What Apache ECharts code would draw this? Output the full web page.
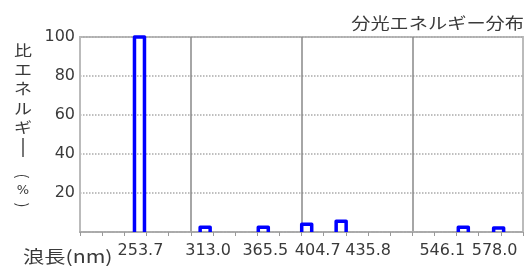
<!DOCTYPE html>
<html>
<head>
    <meta charset="utf-8">
    <title>分光エネルギー分布</title>
    <script src="https://cdn.jsdelivr.net/npm/echarts@6/dist/echarts.min.js"></script>
    <style>
        body { margin: 0; background: #fff; }
    </style>
</head>
<body>
<div id="main" style="width: 526px;height:266px;"></div>
<script type="text/javascript">
    // 波長 (nm) と 比エネルギー (%)
    var wavelengths = [253.7, 313.0, 365.5, 404.7, 435.8, 546.1, 578.0];
    var energy = [100, 2.5, 2.5, 4, 5.5, 2.5, 2];
    var yTicks = [20, 40, 60, 80, 100];

    var jpFont = '"Noto Sans CJK JP", sans-serif';
    var numFont = '"DejaVu Sans", sans-serif';
    var txt = '#3a3a3a';

    // ラベルの横ずらし (px) -- 重ならないように元図でずらしてある
    var nudge = [1, 3, 2, 11, 27, -21, -4];
    var rich = {};
    nudge.forEach(function (d, i) {
        rich['s' + i] = {
            fontSize: 16, fontFamily: numFont, color: txt,
            padding: d >= 0 ? [0, 0, 0, 2 * d] : [0, -2 * d, 0, 0]
        };
    });

    var lineData = wavelengths.map(function (w, i) { return [w, energy[i]]; });

    // 縦書きの軸名
    var yName = ['比', 'エ', 'ネ', 'ル', 'ギ'];
    var yNameEls = yName.map(function (c, i) {
        return {
            type: 'text', x: 23, y: 50 + i * 19.3, scaleX: 1.2,
            style: { text: c, fill: txt, font: '15px ' + jpFont, align: 'center', verticalAlign: 'middle' }
        };
    });
    yNameEls.push(
        { type: 'line', shape: { x1: 23, y1: 138, x2: 23, y2: 157 }, style: { stroke: '#555', lineWidth: 1.6 } },
        { type: 'text', x: 23, y: 176, rotation: -Math.PI / 2,
          style: { text: '(', fill: txt, font: '15px ' + jpFont, align: 'center', verticalAlign: 'middle' } },
        { type: 'text', x: 23, y: 191,
          style: { text: '%', fill: txt, font: '13px ' + numFont, align: 'center', verticalAlign: 'middle' } },
        { type: 'text', x: 23, y: 205, rotation: -Math.PI / 2,
          style: { text: ')', fill: txt, font: '15px ' + jpFont, align: 'center', verticalAlign: 'middle' } }
    );

    var myChart = echarts.init(document.getElementById('main'));
    var option = {
        animation: false,
        grid: {
            left: 80, right: 3, top: 37, bottom: 34,
            show: true, borderColor: '#bbb', borderWidth: 2
        },
        xAxis: [{
            type: 'value', min: 200, max: 600, interval: 100,
            axisLine: { show: true, lineStyle: { color: '#aaa', width: 2, type: 'dotted' } },
            axisTick: { show: true, length: 4, lineStyle: { color: '#999' } },
            minorTick: { show: true, splitNumber: 5, length: 4, lineStyle: { color: '#999' } },
            axisLabel: { show: false },
            splitLine: { show: true, showMinLine: false, showMaxLine: false,
                lineStyle: { color: '#888', width: 1.5 } }
        }, {
            type: 'value', min: 200, max: 600, position: 'bottom',
            axisLine: { show: false }, axisTick: { show: false }, splitLine: { show: false },
            axisLabel: {
                customValues: wavelengths, margin: 11, hideOverlap: false,
                showMinLabel: true, showMaxLabel: true, rich: rich,
                formatter: function (v) {
                    var i = wavelengths.indexOf(v);
                    return '{s' + i + '|' + v.toFixed(1) + '}';
                }
            }
        }],
        yAxis: {
            type: 'value', min: 0, max: 100, interval: 20,
            axisLine: { show: true, lineStyle: { color: '#bbb', width: 2 } },
            axisTick: { show: false },
            axisLabel: {
                fontSize: 16, fontFamily: numFont, color: txt, margin: 5,
                formatter: function (v) { return yTicks.indexOf(v) >= 0 ? String(v) : ''; }
            },
            splitLine: { lineStyle: { color: '#aaa', width: 1.5, type: 'dotted' } }
        },
        graphic: yNameEls.concat([{
            type: 'text', x: 524, y: 23, scaleX: 1.2,
            style: { text: '分光エネルギー分布', fill: txt, font: '16px ' + jpFont,
                align: 'right', verticalAlign: 'middle' }
        }, {
            type: 'text', x: 23, y: 257, scaleX: 1.25,
            style: { text: '浪長(nm)', fill: txt, font: '17px ' + jpFont, verticalAlign: 'middle' }
        }]),
        series: [{
            type: 'custom',
            data: lineData,
            clip: false,
            renderItem: function (params, api) {
                var base = api.coord([api.value(0), 0]);
                var top = api.coord([api.value(0), api.value(1)]);
                var hw = 5;
                return {
                    type: 'polyline',
                    shape: { points: [[base[0] - hw, base[1]], [base[0] - hw, top[1]],
                        [base[0] + hw, top[1]], [base[0] + hw, base[1]]] },
                    style: { stroke: '#0000ff', lineWidth: 3.5, fill: null, lineJoin: 'round' }
                };
            }
        }]
    };
    myChart.setOption(option);
</script>
</body>
</html>
